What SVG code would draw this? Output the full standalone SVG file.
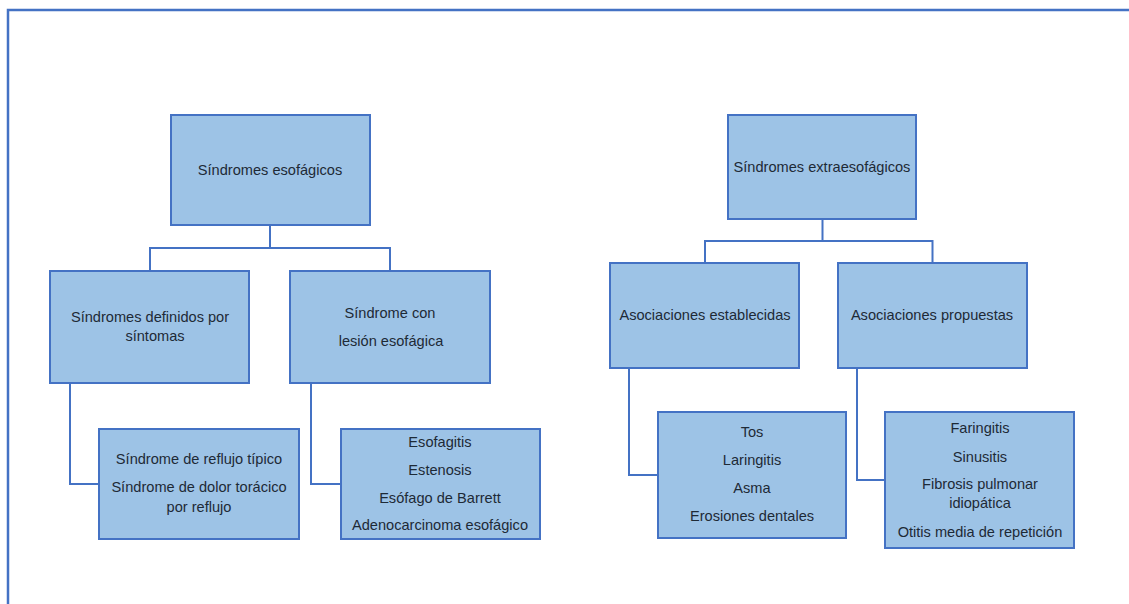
<svg xmlns="http://www.w3.org/2000/svg" width="1129" height="604" viewBox="0 0 1129 604">
  <style>
    .box { fill: #9DC3E6; stroke: #4472C4; stroke-width: 2; }
    .link { fill: none; stroke: #4472C4; stroke-width: 2; }
    .frame { fill: none; stroke: #4472C4; stroke-width: 2.5; }
    text { font-family: "Liberation Sans", Arial, sans-serif; font-size: 14.6px; fill: #1e2a36; text-anchor: middle; }
  </style>
  <rect width="1129" height="604" fill="#ffffff"/>
  <path class="frame" d="M8,604 V10 H1129"/>

  <g id="connectors">
    <path class="link" d="M270,225 V248 M150,271 V248 H390 V271"/>
    <path class="link" d="M70,383 V484 H99"/>
    <path class="link" d="M311,383 V484 H341"/>
    <path class="link" d="M822.5,219 V241 M705,263 V241 H932.5 V263"/>
    <path class="link" d="M629,368 V475 H658"/>
    <path class="link" d="M857,368 V480 H885"/>
  </g>

  <g id="esofagicos">
    <rect class="box" x="171" y="115" width="199" height="110"/>
    <text x="270" y="175">Síndromes esofágicos</text>
  </g>

  <g id="definidos-sintomas">
    <rect class="box" x="50" y="271" width="199" height="112"/>
    <text x="150" y="322">Síndromes definidos por</text>
    <text x="155" y="341">síntomas</text>
  </g>

  <g id="lesion-esofagica">
    <rect class="box" x="290" y="271" width="200" height="112"/>
    <text x="390" y="318">Síndrome con</text>
    <text x="391" y="346">lesión esofágica</text>
  </g>

  <g id="reflujo">
    <rect class="box" x="99" y="429" width="200" height="110"/>
    <text x="199" y="464">Síndrome de reflujo típico</text>
    <text x="199" y="492">Síndrome de dolor torácico</text>
    <text x="199" y="512">por reflujo</text>
  </g>

  <g id="lesiones">
    <rect class="box" x="341" y="429" width="199" height="110"/>
    <text x="440" y="447">Esofagitis</text>
    <text x="440" y="475">Estenosis</text>
    <text x="440" y="503">Esófago de Barrett</text>
    <text x="440" y="530">Adenocarcinoma esofágico</text>
  </g>

  <g id="extraesofagicos">
    <rect class="box" x="728" y="115" width="188" height="104"/>
    <text x="822" y="172">Síndromes extraesofágicos</text>
  </g>

  <g id="establecidas">
    <rect class="box" x="610" y="263" width="189" height="105"/>
    <text x="705" y="320">Asociaciones establecidas</text>
  </g>

  <g id="propuestas">
    <rect class="box" x="838" y="263" width="189" height="105"/>
    <text x="932" y="320">Asociaciones propuestas</text>
  </g>

  <g id="establecidas-lista">
    <rect class="box" x="658" y="412" width="188" height="126"/>
    <text x="752" y="437">Tos</text>
    <text x="752" y="465">Laringitis</text>
    <text x="752" y="493">Asma</text>
    <text x="752" y="521">Erosiones dentales</text>
  </g>

  <g id="propuestas-lista">
    <rect class="box" x="885" y="412" width="189" height="136"/>
    <text x="980" y="433">Faringitis</text>
    <text x="980" y="462">Sinusitis</text>
    <text x="980" y="489">Fibrosis pulmonar</text>
    <text x="980" y="508">idiopática</text>
    <text x="980" y="537">Otitis media de repetición</text>
  </g>
</svg>
